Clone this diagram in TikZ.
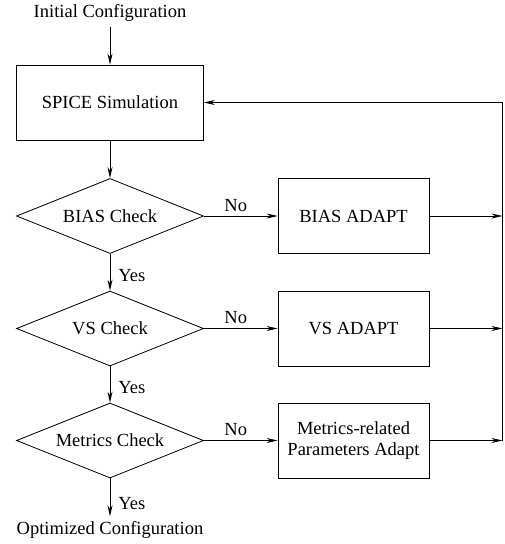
\documentclass[tikz,border=0pt]{standalone}
\usepackage{fontspec}
\setmainfont{Liberation Serif}
\usetikzlibrary{shapes.geometric,arrows.meta}
\begin{document}
\begin{tikzpicture}[x=1pt,y=-1pt,
  every node/.style={font=\fontsize{18.5}{21}\selectfont},
  box/.style={draw,line width=0.8pt,minimum width=187pt,minimum height=75pt,inner sep=0pt},
  abox/.style={draw,line width=0.8pt,minimum width=151pt,minimum height=75pt,inner sep=0pt,align=center},
  dia/.style={draw,line width=0.8pt,diamond,aspect=2.5,minimum width=187pt,minimum height=75pt,inner sep=0pt},
  conn/.style={line width=0.8pt,-{Stealth[length=11pt,width=5pt]}},
  plain/.style={line width=0.8pt},
  lab/.style={inner sep=1pt}]
\useasboundingbox (0,0) rectangle (505,544);
\node[inner sep=5pt] (init) at (110,13) {Initial Configuration};
\node[box] (spice) at (110,102.5) {SPICE Simulation};
\node[dia] (bias) at (110,216) {BIAS Check};
\node[dia] (vs) at (110,328.5) {VS Check};
\node[dia] (met) at (110,440.5) {Metrics Check};
\node[abox] (biasA) at (353.5,216) {BIAS ADAPT};
\node[abox] (vsA) at (353.5,328.5) {VS ADAPT};
\node[abox] (metA) at (353.5,440.5) {Metrics-related\\Parameters Adapt};
\node[inner sep=5pt] (opt) at (110,530) {Optimized Configuration};
\coordinate (rtop) at (502.5,102.5);
\coordinate (rbot) at (502.5,440.5);
\draw[conn] (init) -- (spice);
\draw[conn] (spice) -- (bias);
\draw[conn] (bias) -- node[right,lab,xshift=7pt,yshift=-3pt]{Yes} (vs);
\draw[conn] (vs) -- node[right,lab,xshift=7pt,yshift=-3pt]{Yes} (met);
\draw[conn] (met) -- node[right,lab,xshift=7pt,yshift=-6pt]{Yes} (opt);
\draw[conn] (bias) -- node[above,lab,xshift=-5pt,yshift=3pt]{No} (biasA);
\draw[conn] (vs) -- node[above,lab,xshift=-5pt,yshift=3pt]{No} (vsA);
\draw[conn] (met) -- node[above,lab,xshift=-5pt,yshift=3pt]{No} (metA);
\draw[conn] (biasA) -- (biasA -| rtop);
\draw[conn] (vsA) -- (vsA -| rtop);
\draw[conn] (metA) -- (rbot);
\draw[plain] (rbot) -- (rtop);
\draw[conn] (rtop) -- (spice);
\end{tikzpicture}
\end{document}
